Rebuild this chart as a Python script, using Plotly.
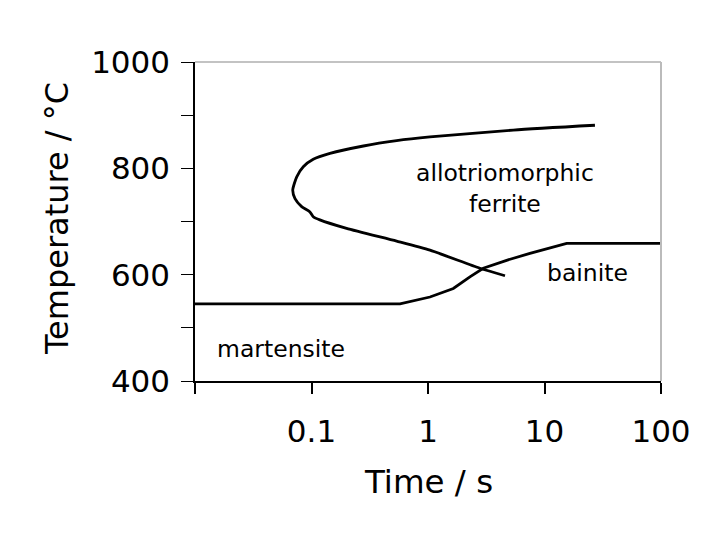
import plotly.graph_objects as go
import math

# Ferrite C-curve (time s, temperature °C)
ferrite_t = [27.1, 5.4, 1.04, 0.538, 0.279, 0.144, 0.1035, 0.085, 0.0747, 0.069,
             0.0722, 0.0823, 0.097, 0.1035, 0.118, 0.2, 0.538, 1.04, 2.79, 4.58]
ferrite_T = [881, 872, 859, 852, 842, 828, 817, 803, 784, 759,
             743, 728, 718, 709, 703, 687, 663, 646, 612, 598]

# Martensite / bainite boundary
bainite_t = [0.01, 0.575, 1.04, 1.65, 2.29, 2.98, 4.73, 7.5, 15.5, 100]
bainite_T = [545, 545, 558, 574, 596, 612, 627, 640, 659, 659]

x_tickvals = [0.01, 0.1, 1, 10, 100]
x_ticktext = ["", "0.1", "1", "10", "100"]
y_tickvals = [400, 500, 600, 700, 800, 900, 1000]
y_ticktext = ["400", "", "600", "", "800", "", "1000"]

labels = [
    ("allotriomorphic<br>ferrite", 4.6, 763),
    ("bainite", 23.4, 604),
    ("martensite", 0.0544, 460),
]

FONT = "DejaVu Sans"

W, H = 720, 540
L, R, T, B = 187, 67, 54, 167
PW, PH = W - L - R, H - T - B
OFF = 8  # page body margin


def px2paper(px, py):
    return (px - OFF - L) / PW, 1 - (py - OFF - T) / PH


fig = go.Figure()
fig.add_trace(go.Scatter(x=ferrite_t, y=ferrite_T, mode="lines",
                         line=dict(color="black", width=2.8, shape="spline", smoothing=0.6),
                         showlegend=False, hoverinfo="skip"))
fig.add_trace(go.Scatter(x=bainite_t, y=bainite_T, mode="lines",
                         line=dict(color="black", width=2.8),
                         showlegend=False, hoverinfo="skip"))

for txt, xv, yv in labels:
    fig.add_annotation(x=math.log10(xv), y=yv, xref="x", yref="y", text=txt,
                       showarrow=False, font=dict(family=FONT, size=23.5, color="black"),
                       xanchor="center", yanchor="middle")

tx, ty = px2paper(428, 482)
fig.add_annotation(x=tx, y=ty, xref="paper", yref="paper", text="Time / s",
                   showarrow=False, xanchor="center", yanchor="middle",
                   font=dict(family=FONT, size=32.5, color="black"))
yx, yy = px2paper(57, 219)
fig.add_annotation(x=yx, y=yy, xref="paper", yref="paper", text="Temperature / °C",
                   showarrow=False, textangle=-90, xanchor="center", yanchor="middle",
                   font=dict(family=FONT, size=32, color="black"))

fig.update_layout(
    width=W, height=H,
    margin=dict(l=L, r=R, t=T, b=B),
    paper_bgcolor="white", plot_bgcolor="white",
    font=dict(family=FONT, color="black"),
    shapes=[
        dict(type="line", xref="paper", yref="paper", x0=0, x1=1, y0=1, y1=1,
             line=dict(color="#888888", width=1.2)),
        dict(type="line", xref="paper", yref="paper", x0=1, x1=1, y0=0, y1=1,
             line=dict(color="#bbbbbb", width=2)),
    ],
)
fig.update_xaxes(type="log", range=[-2, 2], tickvals=x_tickvals, ticktext=x_ticktext,
                 ticks="outside", ticklen=11, tickwidth=1.5, tickcolor="black",
                 showline=True, linecolor="black", linewidth=1.5, showgrid=False,
                 zeroline=False, tickfont=dict(family=FONT, size=31, color="black"),
                 ticklabelstandoff=11)
fig.update_yaxes(range=[400, 1000], tickvals=y_tickvals, ticktext=y_ticktext,
                 ticks="outside", ticklen=12, tickwidth=1.2, tickcolor="black",
                 showline=True, linecolor="black", linewidth=1.5, showgrid=False,
                 zeroline=False, tickfont=dict(family=FONT, size=31, color="black"),
                 ticklabelstandoff=5)

fig.write_html("out.html")
